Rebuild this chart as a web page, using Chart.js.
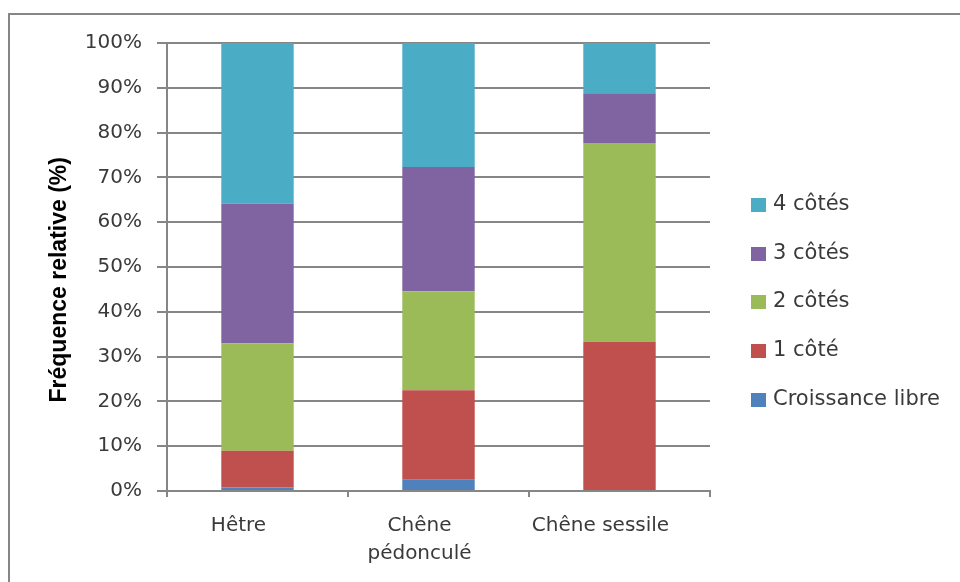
<!DOCTYPE html>
<html lang="fr">
<head>
<meta charset="utf-8"/>
<title>Fréquence relative</title>
<script src="https://cdn.jsdelivr.net/npm/chart.js@4.4.3/dist/chart.umd.min.js"></script>
<style>
  html, body { margin: 0; padding: 0; background: #fff; overflow: hidden; }
  #wrap { position: relative; width: 960px; height: 582px; }
  #frame { position: absolute; left: 8px; top: 13px; width: 1000px; height: 700px; border: 2px solid #868686; box-sizing: border-box; }
  canvas { position: absolute; left: 0; top: 0; }
  #legend { position: absolute; left: 751px; top: 191px; font-family: "DejaVu Sans", sans-serif; font-size: 21px; color: #3a3a3a; }
  #legend div { height: 48.7px; display: flex; align-items: flex-start; white-space: nowrap; }
  #legend span.box { display: inline-block; width: 15px; height: 14px; margin-right: 7px; margin-top: 7px; }
</style>
</head>
<body>
<div id="wrap">
  <div id="frame"></div>
  <canvas id="chart" width="960" height="582"></canvas>
  <div id="legend"></div>
</div>
<script>
  // categories and series (percent of trees per category)
  const categories = ['Hêtre', ['Chêne', 'pédonculé'], 'Chêne sessile'];
  const croissanceLibre = [0.8, 2.5, 0];
  const unCote = [8.2, 20.0, 33.3];
  const deuxCotes = [24.0, 22.1, 44.4];
  const troisCotes = [31.1, 27.7, 11.1];
  const quatreCotes = [35.9, 27.7, 11.2];
  const yTicks = [0, 10, 20, 30, 40, 50, 60, 70, 80, 90, 100];

  const seriesNames = ['Croissance libre', '1 côté', '2 côtés', '3 côtés', '4 côtés'];
  const seriesData = [croissanceLibre, unCote, deuxCotes, troisCotes, quatreCotes];
  const seriesColors = ['#4F81BD', '#C0504D', '#9BBB59', '#8064A2', '#4BACC6'];

  const gridColor = '#868686';
  const textColor = '#3a3a3a';

  const chart = new Chart(document.getElementById('chart'), {
    type: 'bar',
    data: {
      labels: categories,
      datasets: seriesNames.map((name, i) => ({
        label: name,
        data: seriesData[i],
        backgroundColor: seriesColors[i],
        borderWidth: 0,
        categoryPercentage: 1,
        barPercentage: 0.4,
      })),
    },
    options: {
      responsive: false,
      animation: false,
      layout: { padding: { left: 0, top: 43, right: 250, bottom: 0 } },
      plugins: {
        legend: { display: false },
        tooltip: { enabled: false },
      },
      scales: {
        x: {
          stacked: true,
          offset: true,
          grid: { offset: true, drawOnChartArea: false, color: gridColor, lineWidth: 2, tickLength: 6 },
          border: { color: gridColor, width: 2 },
          ticks: {
            color: textColor,
            font: { family: 'DejaVu Sans', size: 20, lineHeight: 1.4 },
            padding: 15,
            labelOffset: -19,
            maxRotation: 0,
            autoSkip: false,
          },
          afterFit: (axis) => { axis.height = 91; },
        },
        y: {
          stacked: true,
          min: 0,
          max: 100,
          afterBuildTicks: (axis) => { axis.ticks = yTicks.map(v => ({ value: v })); },
          grid: { color: gridColor, lineWidth: 2, tickLength: 10 },
          border: { color: gridColor, width: 2 },
          ticks: {
            color: textColor,
            font: { family: 'DejaVu Sans', size: 20 },
            padding: 15,
            callback: (v) => v + '%',
          },
          title: {
            display: true,
            // trailing spaces nudge the rotated title a little lower, like the original
            text: 'Fréquence relative (%)    ',
            color: '#000',
            font: { family: 'Liberation Sans', size: 23, weight: 'bold' },
            padding: { top: 46, bottom: 0 },
          },
          afterFit: (axis) => { axis.width = 167; },
        },
      },
    },
  });

  // legend, top entry = last series (as in the reference)
  const legend = document.getElementById('legend');
  for (let i = seriesNames.length - 1; i >= 0; i--) {
    const row = document.createElement('div');
    const box = document.createElement('span');
    box.className = 'box';
    box.style.background = seriesColors[i];
    row.appendChild(box);
    row.appendChild(document.createTextNode(seriesNames[i]));
    legend.appendChild(row);
  }
</script>
</body>
</html>
